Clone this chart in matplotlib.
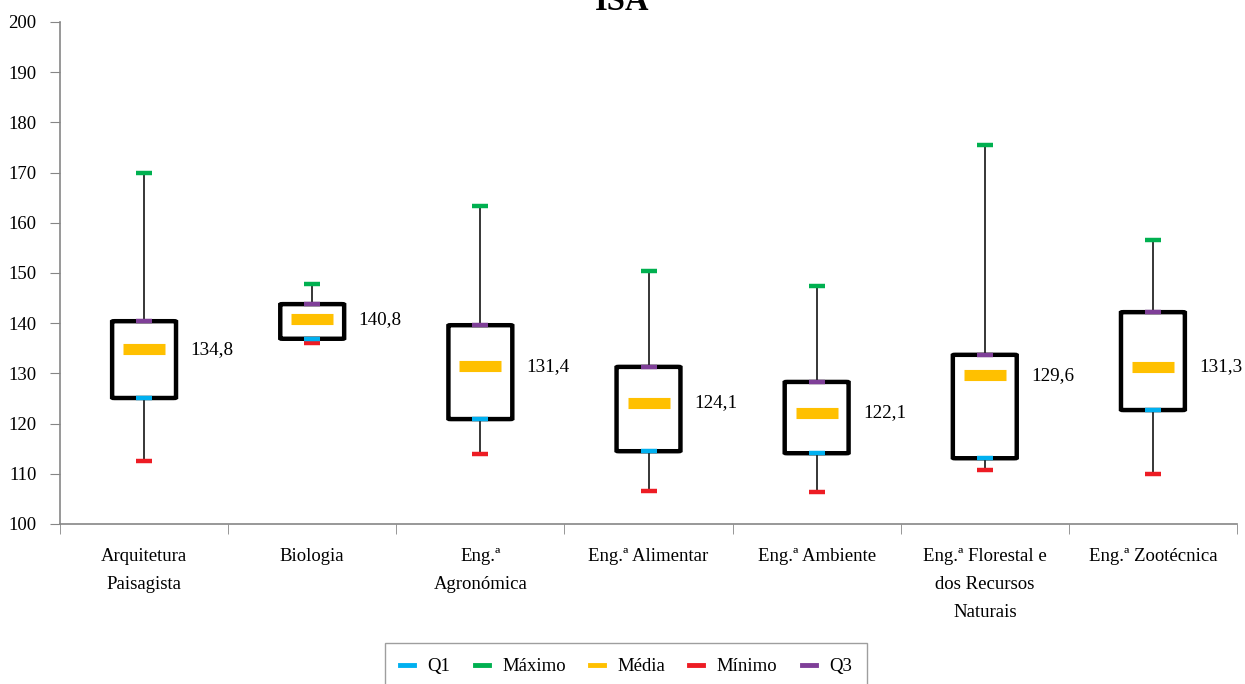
import matplotlib
matplotlib.use('Agg')
import matplotlib.pyplot as plt
from matplotlib.patches import FancyBboxPatch
from matplotlib.lines import Line2D

plt.rcParams['font.family'] = ['Liberation Serif', 'DejaVu Serif']

cursos = ['Arquitetura\nPaisagista', 'Biologia', 'Eng.ª\nAgronómica', 'Eng.ª Alimentar',
          'Eng.ª Ambiente', 'Eng.ª Florestal e\ndos Recursos\nNaturais', 'Eng.ª Zootécnica']
minimo = [112.5, 136.0, 113.9, 106.6, 106.4, 110.8, 110.0]
q1 = [125.1, 136.9, 120.9, 114.5, 114.1, 113.1, 122.7]
media = [134.8, 140.8, 131.4, 124.1, 122.1, 129.6, 131.3]
q3 = [140.4, 143.8, 139.6, 131.3, 128.3, 133.7, 142.2]
maximo = [170.0, 147.8, 163.3, 150.4, 147.4, 175.5, 156.6]
media_txt = ['134,8', '140,8', '131,4', '124,1', '122,1', '129,6', '131,3']

c_q1 = '#00B0F0'
c_max = '#00B050'
c_med = '#FFC000'
c_min = '#ED1C24'
c_q3 = '#7F3F98'

fig = plt.figure(figsize=(12.45, 6.84), dpi=100)
ax = fig.add_axes([60/1245, 1-524/684, 1177/1245, 502/684])

bw = 0.38
for i in range(len(cursos)):
    # bigodes
    ax.plot([i, i], [q3[i], maximo[i]], color='black', lw=1.1, zorder=1)
    ax.plot([i, i], [minimo[i], q1[i]], color='black', lw=1.1, zorder=1)
    box = FancyBboxPatch((i - bw/2, q1[i]), bw, q3[i] - q1[i],
                         boxstyle='round,pad=0,rounding_size=0.015',
                         mutation_aspect=6.0,
                         fc='white', ec='black', lw=3.2, zorder=2)
    ax.add_patch(box)
    ax.text(i + bw/2 + 0.085, media[i], media_txt[i], ha='left', va='center', fontsize=13.8)

x = list(range(len(cursos)))
ax.plot(x, maximo, ls='none', marker='_', ms=11.5, mew=3.2, color=c_max, zorder=3)
ax.plot(x, minimo, ls='none', marker='_', ms=11.5, mew=3.2, color=c_min, zorder=3)
ax.plot(x, q1, ls='none', marker='_', ms=11.5, mew=3.2, color=c_q1, zorder=3)
ax.plot(x, q3, ls='none', marker='_', ms=11.5, mew=3.2, color=c_q3, zorder=3)
ax.plot(x, media, ls='none', marker='_', ms=30, mew=8, color=c_med, zorder=3)

ax.set_xlim(-0.5, len(cursos) - 0.5)
ax.set_ylim(100, 200)
ax.set_yticks(range(100, 201, 10))
ax.set_xticks(x)
ax.set_xticklabels(cursos, fontsize=13.5, linespacing=1.85, va='top')
ax.set_xticks([k - 0.5 for k in range(len(cursos) + 1)], minor=True)
ax.tick_params(axis='x', which='major', length=0, pad=17)
ax.tick_params(axis='x', which='minor', length=7, color='#868686', direction='out')
ax.tick_params(axis='y', length=7, color='#868686', labelsize=13.5, pad=10)
for s in ['top', 'right']:
    ax.spines[s].set_visible(False)
for s in ['left', 'bottom']:
    ax.spines[s].set_color('#868686')
    ax.spines[s].set_linewidth(1.2)

fig.text(0.5, 1 - 10/684, 'ISA', ha='center', va='baseline', fontsize=23.5, fontweight='bold')

handles = [Line2D([], [], color=c, lw=3.5) for c in [c_q1, c_max, c_med, c_min, c_q3]]
leg = fig.legend(handles, ['Q1', 'Máximo', 'Média', 'Mínimo', 'Q3'], ncol=5,
                 loc='upper center', bbox_to_anchor=(626/1245, 1 - 643/684), borderaxespad=0,
                 fontsize=13.5, handlelength=0.75, handletextpad=0.7, columnspacing=1.3,
                 frameon=True, fancybox=False, edgecolor='#868686', borderpad=0.8)
leg.get_frame().set_linewidth(1.0)

fig.savefig('out.png', dpi=100)
